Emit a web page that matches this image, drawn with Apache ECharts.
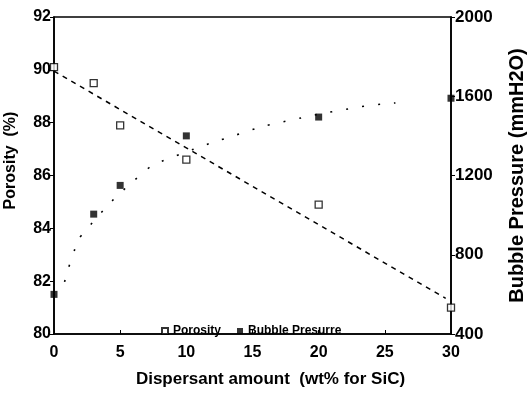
<!DOCTYPE html>
<html>
<head>
<meta charset="utf-8">
<script src="https://cdn.jsdelivr.net/npm/echarts@6.0.0/dist/echarts.min.js"></script>
<style>
  html, body { margin: 0; padding: 0; background: #fff; }
</style>
</head>
<body>
<div id="chart" style="width: 527px;height: 395px;"></div>
<script>
  // dispersant amount (wt% for SiC)
  var amounts = [0, 3, 5, 10, 20, 30];
  var porosity = [90.1, 89.5, 87.9, 86.6, 84.9, 81.0];
  var bubble = [600, 1005, 1150, 1400, 1495, 1590];
  // fitted lines
  var porosityFit = [[0, 89.95], [29.6, 81.35]];
  var bubbleFit = [[0.8, 663], [1.45, 804], [2.1, 900], [6.8, 1218], [8.8, 1288],
                   [14.7, 1425], [16.9, 1465], [23.1, 1546], [25.8, 1566]];
  var xTicks = [0, 30, 5];
  var leftTicks = [80, 92, 2];
  var rightTicks = [400, 2000, 400];

  var font = 'Liberation Sans';

  function pairs(xs, ys) {
    return xs.map(function (x, i) { return [x, ys[i]]; });
  }

  var chart = echarts.init(document.getElementById('chart'));
  chart.setOption({
    animation: false,
    backgroundColor: '#fff',
    textStyle: { fontFamily: font, color: '#000' },
    grid: {
      left: 54, right: 76, top: 17, bottom: 61,
      show: true, borderColor: '#000', borderWidth: 1.6,
      outerBoundsMode: 'none'
    },
    legend: {
      data: ['Porosity', 'Bubble Presurre'],
      left: 156, top: 320,
      itemWidth: 6, itemHeight: 6, itemGap: 16,
      textStyle: { fontSize: 12, fontWeight: 'bold', color: '#000', fontFamily: font }
    },
    xAxis: {
      type: 'value',
      min: xTicks[0], max: xTicks[1], interval: xTicks[2],
      name: 'Dispersant amount  (wt% for SiC)',
      nameLocation: 'middle', nameGap: 37,
      nameTextStyle: { fontSize: 17, fontWeight: 'bold', color: '#000', padding: [0, 0, 0, 36] },
      axisLine: { lineStyle: { color: '#000', width: 1.6 } },
      axisTick: { inside: true, length: 4, lineStyle: { color: '#000' } },
      axisLabel: { fontSize: 16, fontWeight: 'bold', color: '#000', margin: 11 },
      splitLine: { show: false }
    },
    yAxis: [
      {
        type: 'value',
        min: leftTicks[0], max: leftTicks[1], interval: leftTicks[2],
        name: 'Porosity  (%)',
        nameLocation: 'middle', nameGap: 35,
        nameTextStyle: { fontSize: 16, fontWeight: 'bold', color: '#000', padding: [0, 0, 0, 30] },
        axisLine: { show: true, lineStyle: { color: '#000', width: 1.6 } },
        axisTick: { show: true, length: 4, lineStyle: { color: '#000' } },
        axisLabel: { fontSize: 16, fontWeight: 'bold', color: '#000', margin: 3 },
        splitLine: { show: false }
      },
      {
        type: 'value',
        min: rightTicks[0], max: rightTicks[1], interval: rightTicks[2],
        name: 'Bubble Pressure (mmH2O)',
        nameLocation: 'middle', nameGap: 56,
        nameTextStyle: { fontSize: 20, fontWeight: 'bold', color: '#000' },
        axisLine: { show: true, lineStyle: { color: '#000', width: 1.6 } },
        axisTick: { show: true, length: 4, lineStyle: { color: '#000' } },
        axisLabel: {
          fontSize: 17, fontWeight: 'bold', color: '#000', margin: 4,
          formatter: function (v) { return String(v); }
        },
        splitLine: { show: false }
      }
    ],
    series: [
      {
        name: 'porosity fit',
        type: 'line',
        data: porosityFit,
        showSymbol: false,
        lineStyle: { color: '#000', width: 1.5, type: [5, 5] },
        z: 1
      },
      {
        name: 'bubble fit',
        type: 'line',
        yAxisIndex: 1,
        data: bubbleFit,
        smooth: true,
        showSymbol: false,
        lineStyle: { color: '#000', width: 1.6, type: [2, 14] },
        z: 1
      },
      {
        name: 'Porosity',
        type: 'scatter',
        data: pairs(amounts, porosity),
        symbol: 'rect',
        symbolSize: 7,
        itemStyle: { color: '#fff', borderColor: '#000', borderWidth: 1.3 },
        z: 3
      },
      {
        name: 'Bubble Presurre',
        type: 'scatter',
        yAxisIndex: 1,
        data: pairs(amounts, bubble),
        symbol: 'rect',
        symbolSize: 7,
        itemStyle: { color: '#000' },
        z: 3
      }
    ]
  });
</script>
</body>
</html>
